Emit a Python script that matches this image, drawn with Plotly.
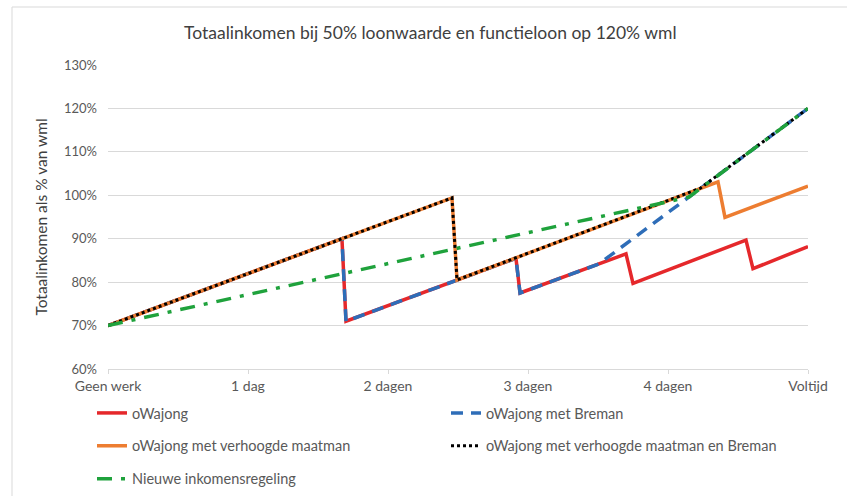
import plotly.graph_objects as go

# ---- data (x in working days, 0 = geen werk, 5 = voltijd; y in % wml) ----
tick_vals = [0, 1, 2, 3, 4, 5]
tick_labels = ["Geen werk", "1 dag", "2 dagen", "3 dagen", "4 dagen", "Voltijd"]

red_x = [0, 1.671, 1.70, 2.493, 2.914, 2.943, 3.70, 3.75, 4.557, 4.607, 5.0]
red_y = [70, 90, 71.0, 80.5, 85.5, 77.5, 86.5, 79.7, 89.7, 83.1, 88.2]

blue_x = [0, 1.671, 1.70, 2.493, 2.914, 2.943, 3.507, 5.0]
blue_y = [70, 90, 71.0, 80.5, 85.5, 77.5, 84.2, 120]

orange_x = [0, 2.457, 2.493, 4.357, 4.407, 5.0]
orange_y = [70, 99.4, 80.5, 103.1, 94.9, 102.1]

black_x = [0, 2.457, 2.493, 4.229, 5.0]
black_y = [70, 99.4, 80.5, 101.6, 120]

green_x = [0, 4.15, 5.0]
green_y = [70, 99.6, 120]

names = ["oWajong", "oWajong met Breman", "oWajong met verhoogde maatman",
         "oWajong met verhoogde maatman en Breman", "Nieuwe inkomensregeling"]

FONT = "Lato"
GREY = "#595959"

fig = go.Figure()
fig.add_trace(go.Scatter(x=red_x, y=red_y, mode="lines", name=names[0],
                         line=dict(color="#E5282B", width=3.5),
                         legend="legend", legendgroup="a"))
fig.add_trace(go.Scatter(x=blue_x, y=blue_y, mode="lines", name=names[1],
                         line=dict(color="#2E6DB8", width=3.5, dash="12px,8px"),
                         legend="legend2", legendgroup="b"))
fig.add_trace(go.Scatter(x=orange_x, y=orange_y, mode="lines", name=names[2],
                         line=dict(color="#ED7D31", width=3.5),
                         legend="legend", legendgroup="c"))
fig.add_trace(go.Scatter(x=black_x, y=black_y, mode="lines", name=names[3],
                         line=dict(color="#000000", width=3, dash="3px,3px"),
                         legend="legend2", legendgroup="d"))
fig.add_trace(go.Scatter(x=green_x, y=green_y, mode="lines", name=names[4],
                         line=dict(color="#1FA23C", width=3.5, dash="15px,9px,4px,9px"),
                         legend="legend", legendgroup="e"))

L, R, T, B = 108, 39, 65, 127
W, H = 847, 496
pw, ph = W - L - R, H - T - B

def px_x(px):
    return (px - L) / pw

def px_y(py):
    return (H - B - py) / ph

legend_common = dict(
    orientation="v", xanchor="left", yanchor="top",
    font=dict(family=FONT, size=14.5, color=GREY),
    bgcolor="rgba(0,0,0,0)", tracegroupgap=11, traceorder="grouped",
)

fig.update_layout(
    width=W, height=H,
    margin=dict(l=L, r=R, t=T, b=B, autoexpand=False),
    paper_bgcolor="white", plot_bgcolor="white",
    font=dict(family=FONT, size=13, color=GREY),
    title=dict(text="Totaalinkomen bij 50% loonwaarde en functieloon op 120% wml",
               x=0.508, xanchor="center", y=1 - 33 / H, yanchor="middle",
               font=dict(family=FONT, size=17.5, color="#404040")),
    xaxis=dict(range=[0, 5], tickvals=tick_vals, ticktext=tick_labels,
               showgrid=False, zeroline=False, showline=True,
               linecolor="#D9D9D9", linewidth=1, ticks="outside", ticklen=4,
               tickcolor="#D9D9D9", tickfont=dict(family=FONT, size=14, color=GREY)),
    yaxis=dict(range=[60, 130], dtick=10, ticksuffix="%", showgrid=True,
               gridcolor="#D9D9D9", gridwidth=1, zeroline=False, showline=False,
               ticklabelstandoff=10,
               tickfont=dict(family=FONT, size=13, color=GREY),
               title=dict(text="Totaalinkomen als % van wml", standoff=12,
                          font=dict(family=FONT, size=15.5, color="#404040"))),
    legend=dict(x=px_x(92), y=px_y(397), **legend_common),
    legend2=dict(x=px_x(446), y=px_y(397), **legend_common),
    shapes=[
        dict(type="line", xref="paper", yref="paper", x0=px_x(12), x1=px_x(847),
             y0=px_y(7), y1=px_y(7), line=dict(color="#D9D9D9", width=1)),
        dict(type="line", xref="paper", yref="paper", x0=px_x(12), x1=px_x(12),
             y0=px_y(7), y1=px_y(496), line=dict(color="#D9D9D9", width=1)),
    ],
)

fig.write_html("out.html", config={"displayModeBar": False},
               post_script="document.body.style.margin='0px';")
